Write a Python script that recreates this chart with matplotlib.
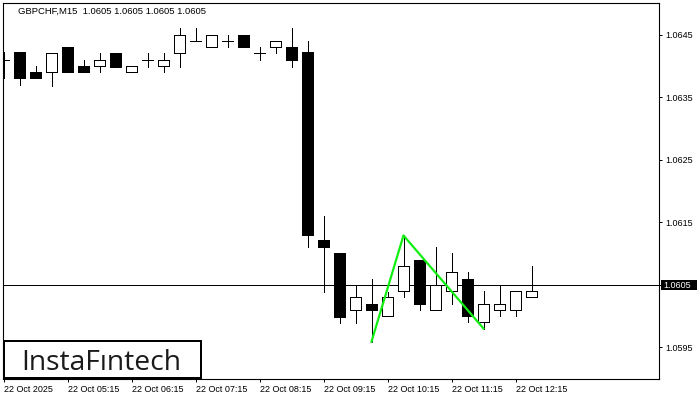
import matplotlib

matplotlib.use("Agg")
import matplotlib.pyplot as plt
from matplotlib.patches import Rectangle

# GBPCHF M15 candles
opens = [1.06410, 1.06422, 1.06390, 1.06390, 1.06430, 1.06400, 1.06400, 1.06421, 1.06390,
         1.06410, 1.06400, 1.06421, 1.06440, 1.06430, 1.06440, 1.06450, 1.06421, 1.06430,
         1.06430, 1.06422, 1.06121, 1.06101, 1.06010, 1.06020, 1.06000, 1.06040, 1.06090,
         1.06010, 1.06040, 1.06060, 1.05990, 1.06010, 1.06010, 1.06030]
highs = [1.06422, 1.06422, 1.06400, 1.06421, 1.06430, 1.06410, 1.06421, 1.06421, 1.06400,
         1.06421, 1.06421, 1.06461, 1.06461, 1.06450, 1.06450, 1.06450, 1.06430, 1.06440,
         1.06461, 1.06440, 1.06160, 1.06101, 1.06049, 1.06060, 1.06039, 1.06129, 1.06090,
         1.06111, 1.06101, 1.06070, 1.06040, 1.06050, 1.06040, 1.06080]
lows = [1.06381, 1.06370, 1.06381, 1.06369, 1.06390, 1.06390, 1.06390, 1.06399, 1.06390,
        1.06399, 1.06390, 1.06399, 1.06440, 1.06430, 1.06430, 1.06430, 1.06410, 1.06421,
        1.06399, 1.06110, 1.06039, 1.05989, 1.05989, 1.05959, 1.06000, 1.06030, 1.06009,
        1.06010, 1.06020, 1.05990, 1.05980, 1.06000, 1.06000, 1.06030]
closes = [1.06410, 1.06381, 1.06381, 1.06421, 1.06390, 1.06390, 1.06410, 1.06399, 1.06400,
          1.06410, 1.06410, 1.06450, 1.06440, 1.06450, 1.06440, 1.06430, 1.06421, 1.06440,
          1.06410, 1.06129, 1.06110, 1.05999, 1.06030, 1.06009, 1.06030, 1.06080, 1.06020,
          1.06050, 1.06070, 1.06000, 1.06020, 1.06020, 1.06040, 1.06040]

# x tick labels every 4 candles
tick_idx = [0, 4, 8, 12, 16, 20, 24, 28, 32]
tick_labels = ["22 Oct 2025", "22 Oct 05:15", "22 Oct 06:15", "22 Oct 07:15", "22 Oct 08:15",
               "22 Oct 09:15", "22 Oct 10:15", "22 Oct 11:15", "22 Oct 12:15"]
price_ticks = [1.0595, 1.0605, 1.0615, 1.0625, 1.0635, 1.0645]

# double bottom pattern: low, peak, low
pattern_idx = [23, 25, 30]
pattern_px = [1.05959, 1.06129, 1.05980]

last_price = 1.0605
title = "GBPCHF,M15  1.0605 1.0605 1.0605 1.0605"

W, H = 700, 400
PX = 0.72  # one pixel in points
FONT = "Liberation Sans"

fig = plt.figure(figsize=(7, 4), dpi=100)
fig.patch.set_facecolor("white")
ax = fig.add_axes([3 / W, (H - 379) / H, 656 / W, 376 / H])
ax.set_xlim(-0.5 / 16, 655.5 / 16)
ax.set_ylim(1.058992, 1.065012)

body_w = 0.66
for i, (o, h, l, c) in enumerate(zip(opens, highs, lows, closes)):
    ax.vlines(i, l, h, color="black", lw=PX, antialiased=False, zorder=2)
    if abs(c - o) < 1e-7:
        ax.hlines(o, i - body_w / 2, i + body_w / 2, color="black", lw=PX,
                  antialiased=False, zorder=3)
    else:
        face = "white" if c > o else "black"
        ax.add_patch(Rectangle((i - body_w / 2, min(o, c)), body_w, abs(c - o),
                               facecolor=face, edgecolor="black", lw=PX,
                               antialiased=False, zorder=3))

ax.axhline(last_price, color="black", lw=PX, zorder=1)
ax.plot(pattern_idx, pattern_px, color="#11EE11", lw=1.6, zorder=4)

for s in ax.spines.values():
    s.set_color("black")
    s.set_linewidth(PX * 1.1)

# the current price gets its own black marker, so its tick label stays empty
ax.yaxis.tick_right()
ax.set_yticks(price_ticks)
ax.set_yticklabels(["" if abs(p - last_price) < 1e-6 else f"{p:.4f}" for p in price_ticks],
                   fontsize=6.5, family=FONT)
ax.set_xticks(tick_idx)
ax.set_xticklabels(tick_labels, fontsize=6.5, family=FONT, ha="left")
ax.tick_params(axis="both", length=2.2, width=PX, pad=2, colors="black")

fig.text(18 / W, 1 - 11 / H, title, fontsize=6.8, family=FONT, va="center", ha="left")

# current price marker on the right axis
fig.patches.append(Rectangle((661 / W, 1 - 290 / H), 36 / W, 10 / H, facecolor="black",
                             edgecolor="none", transform=fig.transFigure, zorder=5))
fig.text(663 / W, 1 - 285 / H, f"{last_price:.4f}", color="white", fontsize=6.5,
         family=FONT, va="center", ha="left", zorder=6)

# logo box
fig.patches.append(Rectangle((3.5 / W, (H - 378) / H), 197 / W, 37 / H, facecolor="white",
                             edgecolor="black", lw=2 * PX, transform=fig.transFigure, zorder=5))
fig.text(21 / W, 1 - 369.5 / H, "InstaF\u0131ntech", fontsize=20.3, family="Open Sans",
         fontweight="medium", va="baseline", ha="left", color="#1a1a1a", zorder=6)

fig.savefig("out.png", dpi=100)
